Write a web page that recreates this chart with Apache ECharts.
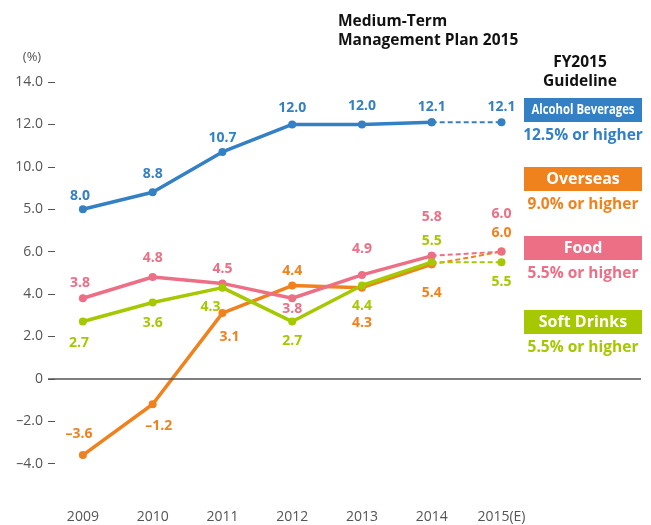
<!DOCTYPE html>
<html>
<head>
<meta charset="utf-8">
<script src="https://cdn.jsdelivr.net/npm/echarts@6/dist/echarts.min.js"></script>
<style>
    html, body { margin: 0; padding: 0; background: #fff; }
    #main { width: 651px; height: 525px; }
</style>
</head>
<body>
<div id="main"></div>
<script>
const years = ['2009', '2010', '2011', '2012', '2013', '2014', '2015(E)']
const alcohol = [8.0, 8.8, 10.7, 12.0, 12.0, 12.1, 12.1]
const overseas = [-3.6, -1.2, 3.1, 4.4, 4.3, 5.4, 6.0]
const food = [3.8, 4.8, 4.5, 3.8, 4.9, 5.8, 6.0]
const softDrinks = [2.7, 3.6, 4.3, 2.7, 4.4, 5.5, 5.5]
const yTicks = [-4, -2, 0, 2, 4, 6, 8, 10, 12, 14]

// label offsets from each point (style only)
const alcoholOff = [[-3, -13], [0, -18], [0, -14], [0, -16], [0, -18], [0, -15], [0, -15]]
const overseasOff = [[-4, -21], [6, 22], [7, 24], [0, -15], [0, 35], [0, 29], [0, -19]]
const foodOff = [[-3, -15], [0, -19], [0, -14], [0, 11], [0, -26], [0, -39], [0, -38]]
const softOff = [[-4, 21], [0, 21], [-12, 19], [0, 19], [0, 20], [0, -21], [0, 20]]

const fmt = v => (v < 0 ? '\u2013' + Math.abs(v).toFixed(1) : v.toFixed(1))
const font = "'Open Sans', 'Noto Sans', sans-serif"

function makeSeries(name, values, offsets, color) {
    const pt = (i) => ({
        value: [i, values[i]],
        label: {
            show: true,
            position: 'inside',
            offset: offsets[i],
            formatter: fmt(values[i]),
            color: color,
            fontSize: 14,
            fontWeight: 'bold',
            fontFamily: font
        }
    })
    const solid = {
        name: name,
        type: 'line',
        data: [0, 1, 2, 3, 4, 5].map(pt),
        symbol: 'circle',
        symbolSize: 8,
        lineStyle: { width: 3.5, color: color },
        itemStyle: { color: color },
        z: 3
    }
    const dashed = {
        name: name + ' (E)',
        type: 'line',
        data: [{ value: [5, values[5]] }, pt(6)],
        symbol: 'circle',
        symbolSize: 8,
        lineStyle: { width: 2, color: color, type: [5, 3] },
        itemStyle: { color: color },
        z: 2
    }
    return [solid, dashed]
}

const legendItems = [
    { box: 'Alcohol Beverages', note: '12.5% or higher', color: '#3480c4', top: 98, narrow: true },
    { box: 'Overseas', note: '9.0% or higher', color: '#f0821e', top: 167 },
    { box: 'Food', note: '5.5% or higher', color: '#ec6f86', top: 236 },
    { box: 'Soft Drinks', note: '5.5% or higher', color: '#a5c800', top: 310 }
]

const graphics = [
    { type: 'text', x: 338, y: 22, style: { text: 'Medium-Term', fill: '#111', font: 'bold 15.5px ' + font, verticalAlign: 'middle' } },
    { type: 'text', x: 338, y: 41, style: { text: 'Management Plan 2015', fill: '#111', font: 'bold 15.5px ' + font, verticalAlign: 'middle' } },
    { type: 'text', x: 580, y: 63, style: { text: 'FY2015', fill: '#111', font: 'bold 15.5px ' + font, align: 'center', verticalAlign: 'middle' } },
    { type: 'text', x: 580, y: 82, style: { text: 'Guideline', fill: '#111', font: 'bold 15.5px ' + font, align: 'center', verticalAlign: 'middle' } },
    { type: 'text', x: 32, y: 57, style: { text: '(%)', fill: '#555', font: '13px ' + font, align: 'center', verticalAlign: 'middle' } }
]
legendItems.forEach(it => {
    graphics.push({ type: 'rect', x: 524, y: it.top, shape: { width: 118, height: 24 }, style: { fill: it.color } })
    graphics.push({
        type: 'text', x: 583, y: it.top + 12,
        scaleX: it.narrow ? 0.78 : 1,
        style: {
            text: it.box, fill: '#fff', align: 'center', verticalAlign: 'middle',
            font: (it.narrow ? 'bold 14.5px ' : 'bold 16px ') + font
        }
    })
    graphics.push({
        type: 'text', x: 583, y: it.top + 38,
        style: { text: it.note, fill: it.color, align: 'center', verticalAlign: 'middle', font: 'bold 15.5px ' + font }
    })
})

const myChart = echarts.init(document.getElementById('main'))

const series = [
    ...makeSeries('Alcohol Beverages', alcohol, alcoholOff, '#3480c4'),
    ...makeSeries('Overseas', overseas, overseasOff, '#f0821e'),
    ...makeSeries('Food', food, foodOff, '#ec6f86'),
    ...makeSeries('Soft Drinks', softDrinks, softOff, '#a5c800')
]
series[0].markLine = {
    silent: true,
    symbol: 'none',
    label: { show: false },
    lineStyle: { color: '#555', width: 1.5, type: 'solid' },
    data: [{ yAxis: 0 }]
}

const option = {
    animation: false,
    grid: { left: 48, right: 10, top: 82, bottom: 19 },
    xAxis: {
        type: 'value',
        min: -0.5,
        max: 8,
        axisLine: { show: false, onZero: false },
        axisTick: { show: false },
        splitLine: { show: false },
        axisLabel: {
            customValues: [0, 1, 2, 3, 4, 5, 6],
            formatter: v => years[v],
            color: '#555',
            fontSize: 14,
            fontFamily: font,
            margin: 4
        }
    },
    yAxis: {
        type: 'value',
        min: -6,
        max: 14,
        interval: 2,
        axisLine: { show: false, onZero: false },
        splitLine: { show: false },
        axisTick: {
            show: true,
            inside: true,
            length: 7,
            customValues: yTicks,
            lineStyle: { color: '#555', width: 1 }
        },
        axisLabel: {
            customValues: yTicks,
            // the reference prints "5.0" at the 8.0 level
            formatter: v => (v === 0 ? '0' : v === 8 ? '5.0' : fmt(v)),
            color: '#555',
            fontSize: 14,
            fontFamily: font,
            margin: 5
        }
    },
    graphic: graphics,
    series: series
}

myChart.setOption(option)
</script>
</body>
</html>
